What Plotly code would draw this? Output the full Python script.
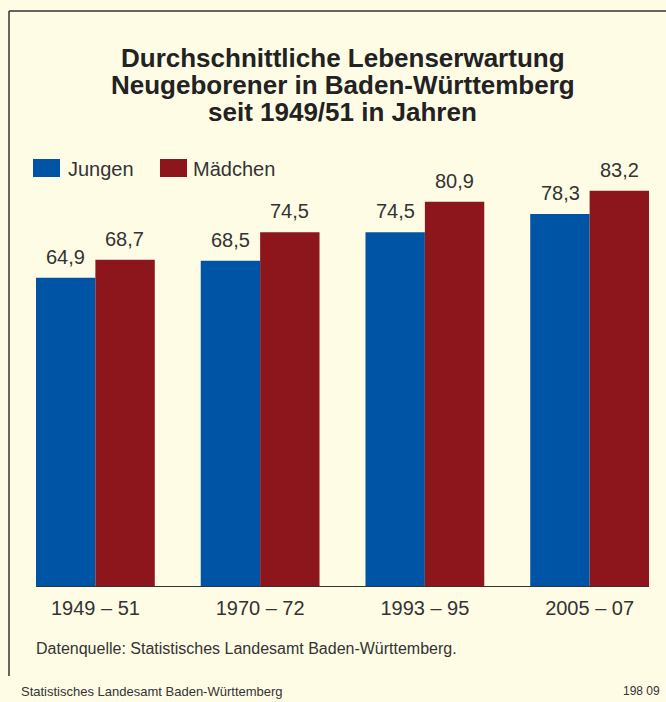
import plotly.graph_objects as go

# ---- data ----
categories = ["1949 – 51", "1970 – 72", "1993 – 95", "2005 – 07"]
series_names = ["Jungen", "Mädchen"]
jungen = [64.9, 68.5, 74.5, 78.3]
maedchen = [68.7, 74.5, 80.9, 83.2]
title_lines = ["Durchschnittliche Lebenserwartung",
               "Neugeborener in Baden-Württemberg",
               "seit 1949/51 in Jahren"]
source_text = "Datenquelle: Statistisches Landesamt Baden-Württemberg."
footer_left = "Statistisches Landesamt Baden-Württemberg"
footer_right = "198 09"

# ---- layout constants ----
W, H = 666, 702
ML, MR, MT, MB = 36, 17, 150, 116
PW, PH = W - ML - MR, H - MT - MB
BG = "#FFFCE6"
BLUE = "#0054A6"
RED = "#8C161C"
TXT = "#333333"
FONT = "Liberation Sans, Arial, Helvetica, sans-serif"
HALF_BAR_PX = 29.5


def xp(px):
    return (px - ML) / PW


def yp(py):
    return (H - MB - py) / PH


fig = go.Figure()
for name, vals, col in [(series_names[0], jungen, BLUE), (series_names[1], maedchen, RED)]:
    fig.add_trace(go.Bar(
        x=categories, y=vals, name=name, marker=dict(color=col, line=dict(width=0)),
        hovertemplate="%{x}: %{y:.1f}<extra>" + name + "</extra>",
    ))

shapes = [
    dict(type="line", xref="paper", yref="paper", x0=xp(9), x1=xp(680), y0=yp(11), y1=yp(11),
         line=dict(color="#333333", width=1.5)),
    dict(type="line", xref="paper", yref="paper", x0=xp(9), x1=xp(9), y0=yp(11), y1=yp(676),
         line=dict(color="#333333", width=1.5)),
    # legend swatches
    dict(type="rect", xref="paper", yref="paper", x0=xp(33), x1=xp(60), y0=yp(159), y1=yp(177),
         fillcolor=BLUE, line=dict(width=0)),
    dict(type="rect", xref="paper", yref="paper", x0=xp(160), x1=xp(187), y0=yp(159), y1=yp(177),
         fillcolor=RED, line=dict(width=0)),
]

annotations = []
# value labels above bars
for vals, shift in [(jungen, -HALF_BAR_PX), (maedchen, HALF_BAR_PX)]:
    for c, v in zip(categories, vals):
        annotations.append(dict(text=f"{v:.1f}".replace(".", ","), x=c, y=v, xref="x", yref="y",
                                xshift=shift, yshift=8, xanchor="center", yanchor="bottom",
                                showarrow=False, font=dict(size=20, color=TXT, family=FONT)))

for line, cy in zip(title_lines, [58, 85, 112]):
    annotations.append(dict(text=f"<b>{line}</b>", xref="paper", yref="paper", x=xp(343), y=yp(cy),
                            xanchor="center", yanchor="middle", showarrow=False,
                            font=dict(size=26, color="#222222", family=FONT)))
annotations += [
    dict(text=series_names[0], xref="paper", yref="paper", x=xp(66), y=yp(169), xanchor="left",
         yanchor="middle", showarrow=False, font=dict(size=20, color=TXT, family=FONT)),
    dict(text=series_names[1], xref="paper", yref="paper", x=xp(191), y=yp(169), xanchor="left",
         yanchor="middle", showarrow=False, font=dict(size=20, color=TXT, family=FONT)),
    dict(text=source_text, xref="paper", yref="paper", x=xp(34), y=yp(648), xanchor="left",
         yanchor="middle", showarrow=False, font=dict(size=16, color=TXT, family=FONT)),
    dict(text=footer_left, xref="paper", yref="paper", x=xp(19), y=yp(691), xanchor="left",
         yanchor="middle", showarrow=False, font=dict(size=13, color=TXT, family=FONT)),
    dict(text=footer_right, xref="paper", yref="paper", x=xp(662), y=yp(691), xanchor="right",
         yanchor="middle", showarrow=False, font=dict(size=12, color=TXT, family=FONT)),
]

fig.update_layout(
    width=W, height=H,
    margin=dict(l=ML, r=MR, t=MT, b=MB, pad=0),
    paper_bgcolor=BG, plot_bgcolor=BG,
    barmode="group", bargap=0.279, bargroupgap=0,
    separators=",.",
    showlegend=False,
    shapes=shapes, annotations=annotations,
    font=dict(family=FONT, color=TXT),
    xaxis=dict(type="category", range=[-0.3605, 3.3605], showline=True, linecolor="#333333",
               linewidth=1, ticks="outside", ticklen=4, tickcolor=BG,
               tickfont=dict(size=20, color=TXT, family=FONT), showgrid=False, zeroline=False,
               fixedrange=True),
    yaxis=dict(range=[0, PH / 4.75], visible=False, showgrid=False, zeroline=False, fixedrange=True),
)

fig.write_html("out.html", config={"displayModeBar": False},
               post_script="document.body.style.margin='0';document.body.style.overflow='hidden';")
